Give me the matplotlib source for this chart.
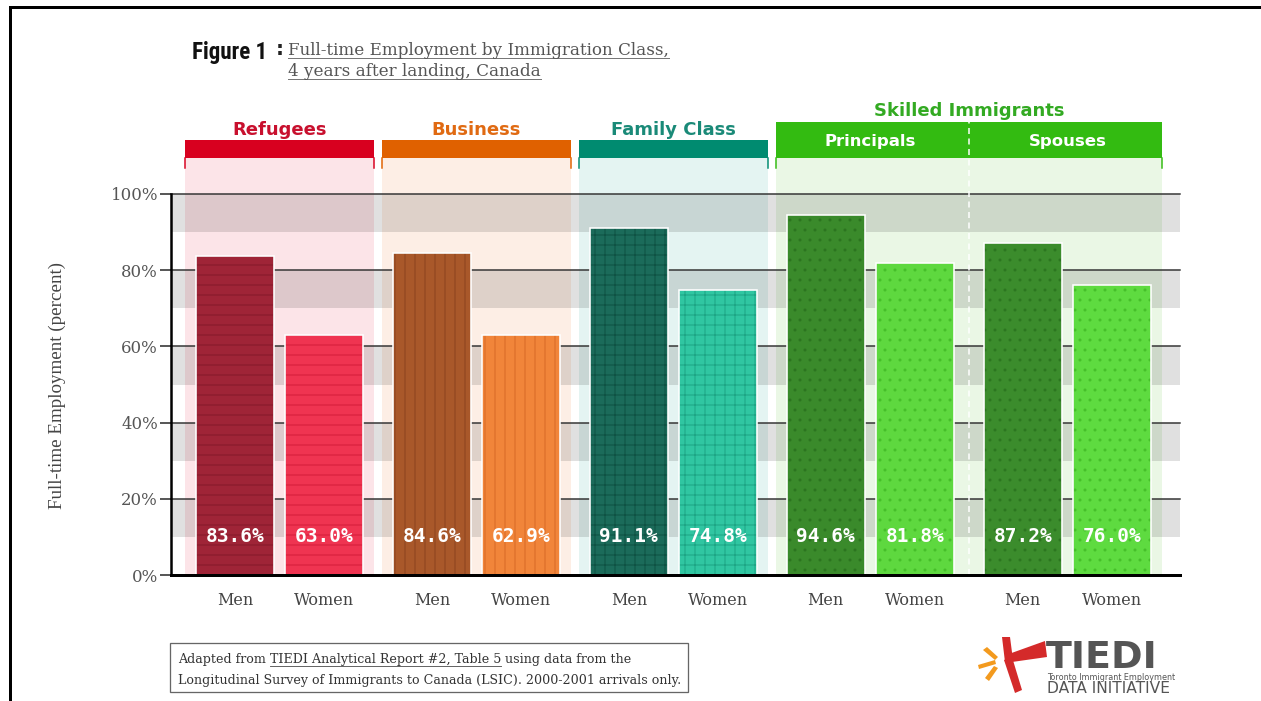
import matplotlib
matplotlib.use("Agg")
import matplotlib.pyplot as plt
from matplotlib.patches import Rectangle, Polygon
from matplotlib.lines import Line2D
from matplotlib import font_manager

# ---------------- data ----------------
categories = ["Refugees", "Business", "Family Class", "Principals", "Spouses"]
sexes = ["Men", "Women"]
men = [83.6, 84.6, 91.1, 94.6, 87.2]
women = [63.0, 62.9, 74.8, 81.8, 76.0]
super_label = "Skilled Immigrants"
yticks = [0, 20, 40, 60, 80, 100]
ytick_labels = ["0%", "20%", "40%", "60%", "80%", "100%"]

# ---------------- styles ----------------
men_col = ["#9f2437", "#a9582a", "#1b6b5a", "#3a8a2b", "#3b8c2c"]
women_col = ["#ef3451", "#f1853a", "#30c6a2", "#5ed83f", "#5edb40"]
men_hatchcol = ["#85192b", "#8d4420", "#0f5244", "#2c7420", "#2c7620"]
women_hatchcol = ["#d41e3b", "#d86a27", "#1ea585", "#45bd2a", "#45be2a"]
hatches = ["--", "||", "++", "..", ".."]
bg_col = ["#fce4e8", "#fdeee5", "#e4f4f2", "#eaf7e5", "#eaf7e5"]
head_col = ["#d8001f", "#e06100", "#008b70", "#33bb11", "#33bb11"]
text_col = ["#c8102e", "#e06a12", "#1a8a78", "#33aa22", "#33aa22"]

W, H, DPI = 1261, 701, 120
plt.rcParams['hatch.linewidth'] = 0.6

# pick a narrow font for "Figure 1" if one is installed
_names = {f.name for f in font_manager.fontManager.ttflist}
narrow_family = None
for cand in ["Liberation Sans Narrow", "Roboto Condensed", "Open Sans Condensed",
             "DejaVu Sans Condensed"]:
    if cand in _names:
        narrow_family = cand
        break


def fx(x):
    return x / W


def fy(y):
    return 1 - y / H


def pt(px):
    return px * 72 / DPI


fig = plt.figure(figsize=(W / DPI, H / DPI), dpi=DPI)
fig.patch.set_facecolor("white")

ax = fig.add_axes([171 / W, 1 - 575 / H, (1180 - 171) / W, (575 - 194) / H])
ax.set_xlim(-0.551, 4.571)
ax.set_ylim(0, 100)
ax.set_facecolor("white")

half = 0.48
bw = 0.396
off = 0.227
top_bg = 109.4
head_h = 4.8

# group backgrounds
for i, c in enumerate(categories):
    ax.add_patch(Rectangle((i - half, 0), 2 * half, top_bg, facecolor=bg_col[i],
                           lw=0, clip_on=False, zorder=0.5))
ax.add_patch(Rectangle((3 + half, 0), 1 - 2 * half, top_bg,
                       facecolor=bg_col[3], lw=0, clip_on=False, zorder=0.5))

# alternating bands
for lo in [10, 30, 50, 70, 90]:
    ax.axhspan(lo, lo + 10, color="black", alpha=0.12, lw=0, zorder=1)

# grid lines
for t in yticks[1:]:
    ax.axhline(t, color="#333333", lw=pt(1.5), zorder=2, clip_on=False)

# bars
xs = list(range(len(categories)))
for i in xs:
    for v, x, fc, hc in [(men[i], i - off, men_col[i], men_hatchcol[i]),
                         (women[i], i + off, women_col[i], women_hatchcol[i])]:
        ax.bar(x, v, bw, color=fc, hatch=hatches[i], edgecolor=hc, lw=0, zorder=3)
        ax.bar(x, v, bw, fill=False, edgecolor="white", lw=pt(1.6), zorder=4)
        ax.text(x, 10.2, f"{v:.1f}%", ha="center", va="center", color="white",
                fontsize=pt(19.5), fontweight="bold", family="DejaVu Sans Mono", zorder=5)

# headers
for i in range(3):
    ax.add_patch(Rectangle((i - half, top_bg), 2 * half, head_h, facecolor=head_col[i],
                           lw=0, clip_on=False, zorder=3))
    for ex in (i - half, i + half):
        ax.plot([ex, ex], [top_bg - 2.6, top_bg], color=head_col[i], lw=pt(1.5),
                clip_on=False, zorder=3)
    ax.text(i, 116.9, categories[i], ha="center", va="center", color=text_col[i],
            fontsize=pt(18), fontweight="bold", clip_on=False)

ax.add_patch(Rectangle((3 - half, top_bg), 1 + 2 * half, 9.5, facecolor=head_col[3],
                       lw=0, clip_on=False, zorder=3))
for ex in (3 - half, 4 + half):
    ax.plot([ex, ex], [top_bg - 2.6, top_bg], color=head_col[3], lw=pt(1.5),
            clip_on=False, zorder=3)
for i in (3, 4):
    ax.text(i, 113.9, categories[i], ha="center", va="center", color="white",
            fontsize=pt(16.5), fontweight="bold", clip_on=False, zorder=4)
ax.text(3.5, 121.9, super_label, ha="center", va="center", color=text_col[3],
        fontsize=pt(18), fontweight="bold", clip_on=False)
ax.plot([3.5, 3.5], [0, top_bg + 9.5], color="white", lw=pt(1.5), ls=(0, (4, 3)),
        clip_on=False, zorder=4.5)

# axes styling
for s in ("top", "right"):
    ax.spines[s].set_visible(False)
ax.spines["left"].set_linewidth(pt(2.5))
ax.spines["bottom"].set_linewidth(pt(3))
ax.spines["left"].set_zorder(6)
ax.spines["bottom"].set_zorder(6)

ax.set_yticks(yticks, labels=ytick_labels)
ax.tick_params(axis="y", length=pt(11), width=pt(1.5), color="#222222",
               labelsize=pt(16.5), labelcolor="#555555", pad=pt(2))
for lab in ax.get_yticklabels():
    lab.set_fontfamily("DejaVu Serif")

xt, xl = [], []
for i in xs:
    xt += [i - off, i + off]
    xl += sexes
ax.set_xticks(xt, labels=xl)
ax.tick_params(axis="x", length=0, labelsize=pt(16), labelcolor="#444444", pad=pt(17))
for lab in ax.get_xticklabels():
    lab.set_fontfamily("DejaVu Serif")

fig.text(fx(57), fy(385), "Full-time Employment (percent)", rotation=90, ha="center",
         va="center", fontsize=pt(19), family="Liberation Serif", color="#444444")

# ---------------- title ----------------
if narrow_family:
    fig.text(fx(192), fy(59), "Figure 1", fontsize=pt(23), fontweight="bold",
             family=narrow_family, va="baseline", color="#111111")
else:
    fig.text(fx(191), fy(59), "Figure 1", fontsize=pt(18), fontweight="bold",
             family="DejaVu Sans", va="baseline", color="#111111")
fig.text(fx(276), fy(55), ":", fontsize=pt(20), fontweight="bold", va="baseline",
         color="#222222")

renderer = fig.canvas.get_renderer()


def underline(t, color, gap=3, lw=1.0):
    bb = t.get_window_extent(renderer=renderer)
    x, y = t.get_position()
    ypix = y * H - gap
    fig.add_artist(Line2D([bb.x0 / W, bb.x1 / W], [ypix / H, ypix / H], color=color,
                          lw=pt(lw), transform=fig.transFigure))
    return bb


t1 = fig.text(fx(288), fy(55), "Full-time Employment by Immigration Class,",
              fontsize=pt(16.7), family="DejaVu Serif", color="#555555", va="baseline")
t2 = fig.text(fx(288), fy(76), "4 years after landing, Canada",
              fontsize=pt(16.7), family="DejaVu Serif", color="#555555", va="baseline")
underline(t1, "#777777")
underline(t2, "#777777")

# ---------------- footnote ----------------
fig.add_artist(Rectangle((fx(170), fy(692)), (688 - 170) / W, (692 - 643) / H,
                         facecolor="white", edgecolor="#666666", lw=pt(1.3),
                         transform=fig.transFigure))
fs_note = pt(12.7)
fam_note = "DejaVu Serif"
tmp1 = fig.text(0, 0, "a a", fontsize=fs_note, family=fam_note)
tmp2 = fig.text(0, 0, "aa", fontsize=fs_note, family=fam_note)
space = (tmp1.get_window_extent(renderer).width - tmp2.get_window_extent(renderer).width)
tmp1.remove()
tmp2.remove()

pieces = [("Adapted from", False), ("TIEDI Analytical Report #2, Table 5", True),
          ("using data from the", False)]
xcur = 178
for txt, ul in pieces:
    t = fig.text(fx(xcur), fy(663), txt, fontsize=fs_note, family=fam_note,
                 color="#333333", va="baseline")
    bb = t.get_window_extent(renderer)
    if ul:
        underline(t, "#555555", gap=2.5, lw=0.9)
    xcur = bb.x1 + space
fig.text(fx(178), fy(684), "Longitudinal Survey of Immigrants to Canada (LSIC). 2000-2001 arrivals only.",
         fontsize=fs_note, family=fam_note, color="#333333", va="baseline")

# ---------------- logo ----------------
def poly(pts, color):
    fig.add_artist(Polygon([(fx(x), fy(y)) for x, y in pts], closed=True,
                           facecolor=color, edgecolor="none", transform=fig.transFigure))


poly([(1045, 641), (1047, 657), (1012, 662), (1006, 655)], "#d42a2a")
poly([(1002, 637), (1010, 637), (1013, 660), (1005, 662)], "#d42a2a")
poly([(1004, 660), (1012, 657), (1022, 690), (1015, 693)], "#d42a2a")
poly([(983, 650), (987, 647), (998, 657), (995, 660)], "#f39a1e")
poly([(978, 665), (995, 660), (996, 664), (979, 669)], "#f39a1e")
poly([(985, 678), (994, 666), (998, 668), (989, 681)], "#f39a1e")
fig.text(fx(1046), fy(668), "TIEDI", fontsize=pt(38), fontweight="bold",
         family="DejaVu Sans", color="#555555", va="baseline")
fig.text(fx(1047), fy(680.5), "Toronto Immigrant Employment", fontsize=pt(8),
         family="DejaVu Sans", color="#555555", va="baseline")
fig.text(fx(1047), fy(693), "DATA INITIATIVE", fontsize=pt(15.5),
         family="DejaVu Sans", color="#555555", va="baseline")

# ---------------- border ----------------
fig.add_artist(Line2D([fx(10), fx(10)], [fy(7), fy(701)], color="black", lw=pt(3),
                      transform=fig.transFigure))
fig.add_artist(Line2D([fx(10), fx(1261)], [fy(7), fy(7)], color="black", lw=pt(3),
                      transform=fig.transFigure))

fig.savefig("out.png", dpi=DPI, facecolor="white")
